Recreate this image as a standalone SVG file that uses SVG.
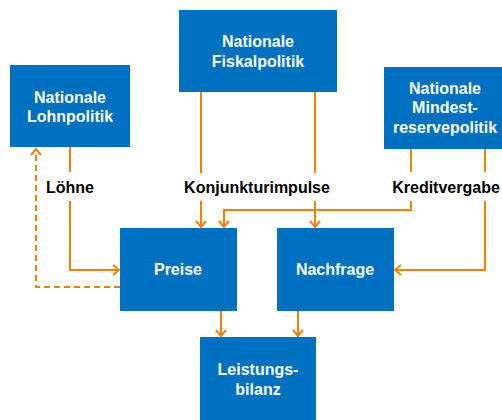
<svg xmlns="http://www.w3.org/2000/svg" width="502" height="420" viewBox="0 0 502 420">
<style>
.box{fill:#0070C0;}
.nt{font-family:"Liberation Sans",Arial,sans-serif;font-weight:bold;font-size:16px;fill:#fff;text-anchor:middle;}
.lt{font-family:"Liberation Sans",Arial,sans-serif;font-weight:bold;font-size:16px;fill:#000;text-anchor:middle;}
.c{fill:none;stroke:#F08000;stroke-width:2;}
.d{stroke-dasharray:6,4;}
</style>
<defs>
<marker id="ah" markerWidth="12" markerHeight="12" refX="9" refY="6" orient="auto" markerUnits="userSpaceOnUse">
<path d="M3,1 L9,6 L3,11" fill="none" stroke="#F08000" stroke-width="2"/>
</marker>
</defs>
<rect width="502" height="420" fill="#fff"/>
<g id="connectors">
<path class="c" d="M70,147 V172"/>
<path class="c" d="M70,201 V270 H119" marker-end="url(#ah)"/>
<path class="c d" d="M120,287 H36 V149" marker-end="url(#ah)"/>
<path class="c" d="M201,92 V173"/>
<path class="c" d="M201,201 V227" marker-end="url(#ah)"/>
<path class="c" d="M315,92 V173"/>
<path class="c" d="M315,201 V227" marker-end="url(#ah)"/>
<path class="c" d="M411,149 V172"/>
<path class="c" d="M411,201 V210 H224 V227" marker-end="url(#ah)"/>
<path class="c" d="M485,149 V172"/>
<path class="c" d="M485,201 V270 H395" marker-end="url(#ah)"/>
<path class="c" d="M221,311 V336" marker-end="url(#ah)"/>
<path class="c" d="M298,311 V336" marker-end="url(#ah)"/>
</g>
<g id="lohn">
<rect class="box" x="10" y="65" width="120" height="82"/>
<text class="nt" x="70" y="103">Nationale</text>
<text class="nt" x="70" y="122">Lohnpolitik</text>
</g>
<g id="fiskal">
<rect class="box" x="179" y="10" width="158" height="82"/>
<text class="nt" x="258" y="47">Nationale</text>
<text class="nt" x="258" y="67">Fiskalpolitik</text>
</g>
<g id="mindest">
<rect class="box" x="384" y="67" width="118" height="82"/>
<text class="nt" x="445" y="94">Nationale</text>
<text class="nt" x="445" y="113">Mindest-</text>
<text class="nt" x="445" y="133">reservepolitik</text>
</g>
<g id="preise">
<rect class="box" x="120" y="228" width="117" height="83"/>
<text class="nt" x="178" y="275">Preise</text>
</g>
<g id="nachfrage">
<rect class="box" x="277" y="228" width="117" height="83"/>
<text class="nt" x="335" y="275">Nachfrage</text>
</g>
<g id="leistung">
<rect class="box" x="200" y="337" width="116" height="83"/>
<text class="nt" x="258" y="375">Leistungs-</text>
<text class="nt" x="258" y="395">bilanz</text>
</g>
<g id="labels">
<text class="lt" x="70" y="193">Löhne</text>
<text class="lt" x="257" y="193">Konjunkturimpulse</text>
<text class="lt" x="446" y="193">Kreditvergabe</text>
</g>
</svg>
